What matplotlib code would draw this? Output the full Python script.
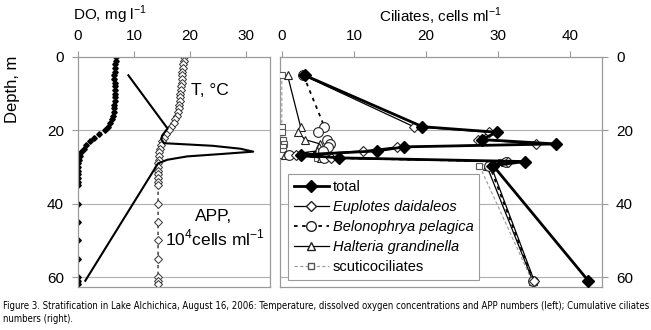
#coding:utf-8

#
# Lake Alchichica, August 16, 2006
#   left : temperature, dissolved oxygen and APP against depth
#   right: cumulative ciliate numbers against depth
#

import numpy as np
from matplotlib import pyplot as plt
from matplotlib.lines import Line2D

# CTD cast, depth [m]
depth_ctd = [0, 1, 2, 3, 4, 5, 6, 7, 8, 9, 10, 11, 12, 13, 14, 15, 16, 17, 18, 19,
	20, 21, 22, 23, 24, 25, 26, 27, 28, 29, 30, 31, 32, 33, 34, 35,
	40, 45, 50, 55, 60, 61, 62]
# dissolved oxygen [mg/l]
do_mgl = [6.8, 6.7, 6.6, 6.6, 6.6, 6.5, 6.5, 6.6, 6.6, 6.6, 6.6, 6.6, 6.6, 6.5, 6.5, 6.4, 6.3, 6.0, 5.7, 5.3,
	4.9, 3.8, 2.8, 2.2, 1.5, 1.0, 0.6, 0.3, 0.1, 0.0, 0.0, 0.0, 0.0, 0.0, 0.0, 0.0,
	0.0, 0.0, 0.0, 0.0, 0.0, 0.0, 0.0]
# temperature [deg C]
temp_c = [19.0, 18.9, 18.8, 18.7, 18.6, 18.6, 18.5, 18.5, 18.4, 18.4, 18.3, 18.3, 18.2, 18.1, 18.0, 17.9, 17.7, 17.4, 17.1, 16.7,
	16.2, 15.7, 15.3, 15.0, 14.8, 14.6, 14.5, 14.4, 14.4, 14.3, 14.3, 14.3, 14.3, 14.3, 14.3, 14.3,
	14.3, 14.3, 14.3, 14.3, 14.3, 14.3, 14.3]

# APP [10^4 cells/ml]
depth_app = [5, 19.5, 21.5, 22.5, 23.5, 24.2, 25.0, 25.8, 26.4, 27.1, 28.0, 29.0, 61]
app = [9.0, 16.0, 15.0, 14.9, 15.4, 24.0, 29.0, 31.3, 26.0, 19.5, 16.0, 14.3, 1.3]

# ciliates [cells/ml], cumulative
depth_cil = [5, 19, 20.5, 22.5, 23.7, 24.5, 25.6, 26.7, 27.5, 28.5, 29.6, 61]
total = [3.2, 19.5, 29.8, 27.7, 38.0, 17.0, 13.2, 2.6, 8.0, 33.7, 29.3, 42.5]
euplotes = [3.0, 18.3, 28.8, 27.2, 35.3, 16.0, 11.2, 2.0, 6.8, 31.4, 29.0, 35.0]
belonophrya = [3.0, 5.9, 5.0, 6.2, 6.7, 6.4, 5.7, 1.0, 5.8, 31.1, 28.8, 34.9]
halteria = [0.8, 2.6, 2.3, 3.2, 5.3, 5.1, 4.9, 0.5, 5.4, 31.0, 28.4, 34.8]
scutico = [0.0, 0.0, 0.0, 0.1, 0.3, 0.1, 0.1, 0.0, 4.9, 30.4, 27.4, 34.7]

W, H = 651.0, 330.0
GRAY = '#9a9a9a'


def px_axes(fig, x0, y0, x1, y1):
	# axes from pixel box (top-left origin)
	return fig.add_axes([x0 / W, 1 - y1 / H, (x1 - x0) / W, (y1 - y0) / H])

def frame(ax):
	for s in ax.spines.values():
		s.set_color(GRAY)
		s.set_linewidth(0.9)
	ax.xaxis.tick_top()
	ax.tick_params(axis='both', colors=GRAY, labelcolor='black', labelsize=11, length=4, width=0.8)
	ax.tick_params(axis='x', pad=6)
	ax.tick_params(axis='y', pad=6)
	ax.set_ylim(62.7, 0)
	ax.set_yticks([0, 20, 40, 60])
	for d in [20, 40, 60]:
		ax.axhline(d, color='#b0b0b0', lw=0.8, zorder=0)

def left_panel(ax):
	frame(ax)
	ax.set_xlim(0, 34.3)
	ax.set_xticks([0, 10, 20, 30])
	ax.plot(do_mgl, depth_ctd, color='black', ls=(0, (3, 3)), lw=0.8, marker='D', ms=2.8, mfc='black', mec='black')
	ax.plot(temp_c, depth_ctd, color='black', ls=(0, (3, 3)), lw=0.8, marker='D', ms=4.4, mfc='white', mec='#333333', mew=0.7)
	ax.plot(app, depth_app, color='black', lw=1.5)
	ax.text(23.5, 9.0, 'T, \u00b0C', fontsize=12.5, ha='center', va='center')
	ax.text(24.3, 43.5, 'APP,', fontsize=12.5, ha='center', va='center')
	ax.text(24.5, 49.5, '10$^4$cells ml$^{-1}$', fontsize=12.5, ha='center', va='center')

def right_panel(ax):
	frame(ax)
	ax.yaxis.tick_right()
	ax.set_xlim(-0.25, 44.4)
	ax.set_xticks([0, 10, 20, 30, 40])
	ax.plot(scutico, depth_cil, color=GRAY, ls=(0, (3, 2)), lw=0.8, marker='s', ms=5, mfc='white', mec='#555555', mew=0.8, zorder=3)
	ax.plot(halteria, depth_cil, color='black', lw=0.9, marker='^', ms=6, mfc='white', mec='#222222', mew=0.8, zorder=4)
	ax.plot(belonophrya, depth_cil, color='black', ls=(0, (2, 2.5)), lw=1.3, marker='o', ms=7, mfc='white', mec='#222222', mew=0.8, zorder=5)
	ax.plot(euplotes, depth_cil, color='black', lw=0.9, marker='D', ms=5.5, mfc='white', mec='#222222', mew=0.8, zorder=6)
	ax.plot(total, depth_cil, color='black', lw=2.0, marker='D', ms=6, mfc='black', mec='black', zorder=7)
	ax.set_xlabel('Ciliates, cells ml$^{-1}$', fontsize=11, labelpad=5)
	ax.xaxis.set_label_position('top')

	handles = [
		Line2D([], [], color='black', lw=2.0, marker='D', ms=6, mfc='black', mec='black'),
		Line2D([], [], color='black', lw=0.9, marker='D', ms=5.5, mfc='white', mec='#222222'),
		Line2D([], [], color='black', ls=(0, (2, 2.5)), lw=1.3, marker='o', ms=7, mfc='white', mec='#222222'),
		Line2D([], [], color='black', lw=0.9, marker='^', ms=6, mfc='white', mec='#222222'),
		Line2D([], [], color=GRAY, ls=(0, (3, 2)), lw=0.8, marker='s', ms=5, mfc='white', mec='#555555'),
	]
	labels = ['total', 'Euplotes daidaleos', 'Belonophrya pelagica', 'Halteria grandinella', 'scuticociliates']
	leg = ax.legend(handles, labels, loc='lower left', bbox_to_anchor=(0.025, 0.03), borderaxespad=0,
		fontsize=10.5, handlelength=2.4, labelspacing=0.42, borderpad=0.4, handletextpad=0.25,
		frameon=True, fancybox=False, framealpha=1, edgecolor=GRAY)
	leg.get_frame().set_linewidth(0.8)
	for t in leg.get_texts()[1:4]:
		t.set_style('italic')


if __name__ == '__main__':
	plt.rcParams['font.family'] = ['Liberation Sans', 'DejaVu Sans']
	plt.rcParams['mathtext.fontset'] = 'custom'
	plt.rcParams['mathtext.rm'] = 'Liberation Sans'

	fig = plt.figure(figsize=(W / 100, H / 100), dpi=100)

	ax1 = px_axes(fig, 78, 57, 270, 287)
	left_panel(ax1)
	ax2 = px_axes(fig, 280, 57, 602, 287)
	right_panel(ax2)

	fig.text(110 / W, 1 - 15 / H, 'DO, mg l$^{-1}$', fontsize=11, ha='center', va='center')
	fig.text(13 / W, 1 - 89 / H, 'Depth, m', fontsize=12, ha='center', va='center', rotation=90)

	cap = ('Figure 3. Stratification in Lake Alchichica, August 16, 2006: Temperature, dissolved oxygen concentrations '
		'and APP numbers (left); Cumulative ciliates\nnumbers (right).')
	fig.text(3 / W, 1 - 301 / H, cap, fontsize=6.85, ha='left', va='top', linespacing=1.35,
		family=['DejaVu Sans'], stretch='condensed')

	fig.savefig('out.png', dpi=100)
